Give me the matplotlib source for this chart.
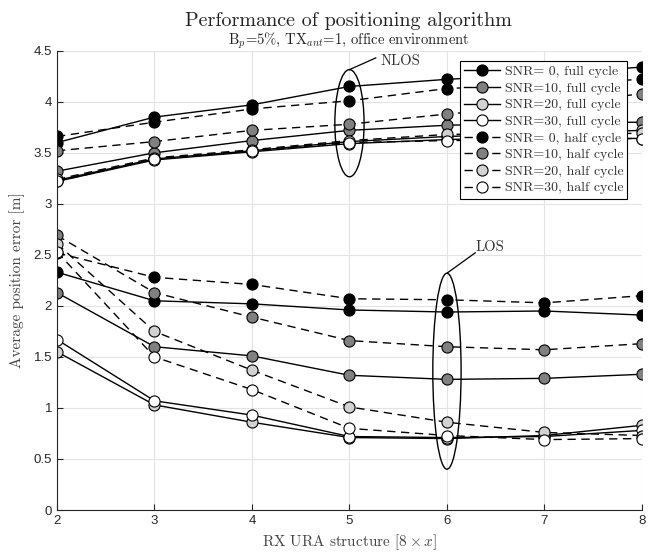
import matplotlib
matplotlib.use('Agg')
import matplotlib.pyplot as plt
from matplotlib.patches import Ellipse

plt.rcParams['mathtext.fontset'] = 'cm'

# RX URA structure [8 x x]
x = [2, 3, 4, 5, 6, 7, 8]

# NLOS results (average position error in m)
nlos_snr0_full = [3.60, 3.85, 3.97, 4.15, 4.22, 4.27, 4.34]
nlos_snr10_full = [3.32, 3.50, 3.62, 3.72, 3.77, 3.79, 3.80]
nlos_snr20_full = [3.23, 3.44, 3.52, 3.61, 3.66, 3.69, 3.72]
nlos_snr30_full = [3.22, 3.43, 3.51, 3.59, 3.63, 3.65, 3.64]
nlos_snr0_half = [3.66, 3.80, 3.93, 4.01, 4.13, 4.17, 4.22]
nlos_snr10_half = [3.52, 3.61, 3.72, 3.78, 3.88, 3.96, 4.08]
nlos_snr20_half = [3.24, 3.45, 3.53, 3.62, 3.68, 3.69, 3.69]
nlos_snr30_half = [3.22, 3.44, 3.52, 3.60, 3.62, 3.63, 3.64]

# LOS results
los_snr0_full = [2.33, 2.05, 2.02, 1.96, 1.94, 1.95, 1.91]
los_snr10_full = [2.13, 1.60, 1.51, 1.32, 1.28, 1.29, 1.33]
los_snr20_full = [1.55, 1.03, 0.86, 0.71, 0.70, 0.73, 0.83]
los_snr30_full = [1.67, 1.07, 0.93, 0.72, 0.71, 0.72, 0.78]
los_snr0_half = [2.52, 2.28, 2.21, 2.07, 2.06, 2.03, 2.10]
los_snr10_half = [2.69, 2.13, 1.89, 1.66, 1.60, 1.57, 1.63]
los_snr20_half = [2.61, 1.75, 1.37, 1.01, 0.86, 0.76, 0.73]
los_snr30_half = [2.53, 1.50, 1.18, 0.80, 0.73, 0.69, 0.70]

labels = ['SNR= 0, full cycle', 'SNR=10, full cycle', 'SNR=20, full cycle', 'SNR=30, full cycle',
          'SNR= 0, half cycle', 'SNR=10, half cycle', 'SNR=20, half cycle', 'SNR=30, half cycle']
face_colors = ['black', '#808080', '#d2d2d2', 'white'] * 2
styles = ['-'] * 4 + [(0, (6, 4))] * 4

nlos = [nlos_snr0_full, nlos_snr10_full, nlos_snr20_full, nlos_snr30_full,
        nlos_snr0_half, nlos_snr10_half, nlos_snr20_half, nlos_snr30_half]
los = [los_snr0_full, los_snr10_full, los_snr20_full, los_snr30_full,
       los_snr0_half, los_snr10_half, los_snr20_half, los_snr30_half]

serif = 'cmr10'

fig = plt.figure(figsize=(6.58, 5.54), dpi=100)
ax = fig.add_axes([0.0866, 0.0794, 0.889, 0.829])

for i in range(8):
    kw = dict(color='black', linestyle=styles[i], linewidth=1.0, marker='o',
              markersize=8, markerfacecolor=face_colors[i], markeredgecolor='black',
              markeredgewidth=0.8)
    ax.plot(x, nlos[i], label=labels[i], **kw)
    ax.plot(x, los[i], **kw)

# ellipses marking the NLOS / LOS groups
ax.add_patch(Ellipse((5, 3.79), 0.30, 1.05, fill=False, edgecolor='black', linewidth=1.0, zorder=5))
ax.add_patch(Ellipse((6, 1.36), 0.29, 1.92, fill=False, edgecolor='black', linewidth=1.0, zorder=5))
ax.plot([5.0, 5.27], [4.315, 4.43], color='black', linewidth=0.9)
ax.plot([6.0, 6.29], [2.32, 2.52], color='black', linewidth=0.9)
ax.text(5.52, 4.40, 'NLOS', family=serif, fontsize=10.5, color='#333333', ha='center', va='center')
ax.text(6.44, 2.58, 'LOS', family=serif, fontsize=10.5, color='#333333', ha='center', va='center')

ax.set_xlim(2, 8)
ax.set_ylim(0, 4.5)
ax.set_xticks(x)
ax.set_yticks([0, 0.5, 1, 1.5, 2, 2.5, 3, 3.5, 4, 4.5])
ax.set_yticklabels(['0', '0.5', '1', '1.5', '2', '2.5', '3', '3.5', '4', '4.5'])
ax.grid(True, color='#e3e3e3', linewidth=0.8)
ax.set_axisbelow(True)
for s in ['top', 'right']:
    ax.spines[s].set_visible(False)
for s in ['left', 'bottom']:
    ax.spines[s].set_color('#262626')
    ax.spines[s].set_linewidth(0.8)
ax.tick_params(direction='in', length=4, width=0.8, colors='#262626', labelsize=9.5)
for lab in ax.get_xticklabels() + ax.get_yticklabels():
    lab.set_family('Liberation Sans')

ax.set_xlabel(r'RX URA structure $[8\times x]$', family=serif, fontsize=11, color='#444444', labelpad=4)
ax.set_ylabel('Average position error [m]', family=serif, fontsize=11, color='#444444', labelpad=6)

fig.text(0.53, 0.962, 'Performance of positioning algorithm', family=serif, fontsize=14.5,
         color='#222222', ha='center', va='center')
fig.text(0.53, 0.927, r'B$_p$=5%, TX$_{ant}$=1, office environment', family=serif, fontsize=10.5,
         color='#222222', ha='center', va='center')

leg = ax.legend(loc='upper right', bbox_to_anchor=(0.975, 0.977), prop={'family': serif, 'size': 10},
                frameon=True, fancybox=False, edgecolor='black', framealpha=1.0,
                handlelength=2.6, labelspacing=0.28, borderpad=0.3, handletextpad=0.3,
                borderaxespad=0.0)
leg.get_frame().set_linewidth(0.8)
for t in leg.get_texts():
    t.set_color('#333333')

fig.savefig('out.png', dpi=100)
